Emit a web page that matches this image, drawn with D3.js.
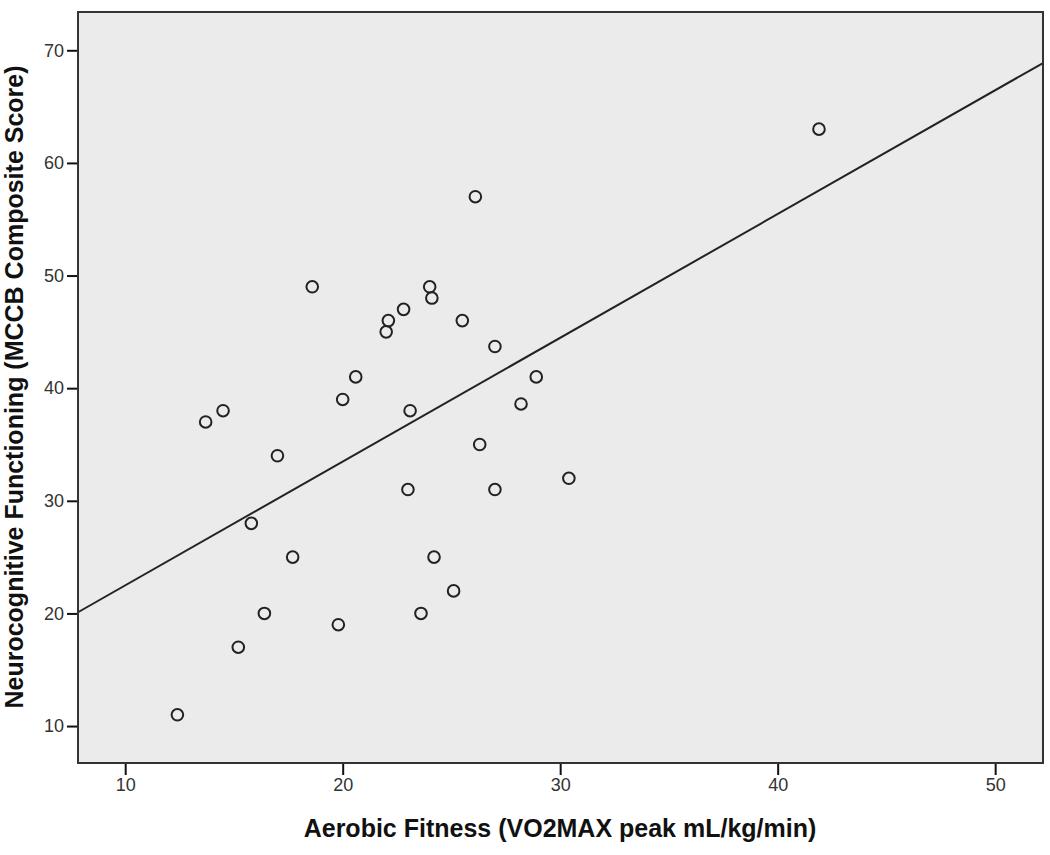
<!DOCTYPE html>
<html>
<head>
<meta charset="utf-8">
<script src="https://cdn.jsdelivr.net/npm/d3@7"></script>
<style>
  body { margin: 0; background: #fff; }
  svg { display: block; font-family: 'Liberation Sans', Arial, sans-serif; }
  .tick text { font-size: 18px; }
</style>
</head>
<body>
<div id="chart"></div>
<script>
  // Data
  const fitness = [
    12.4, 13.7, 14.5, 15.2, 15.8, 16.4, 17.0, 17.7, 18.6, 19.8, 20.0,
    20.6, 22.0, 22.1, 22.8, 23.0, 23.1, 23.6, 24.0, 24.1, 24.2, 25.1,
    25.5, 26.1, 26.3, 27.0, 27.0, 28.2, 28.9, 30.4, 41.9
  ];
  const mccb = [
    11, 37, 38, 17, 28, 20, 34, 25, 49, 19, 39,
    41, 45, 46, 47, 31, 38, 20, 49, 48, 25, 22,
    46, 57, 35, 43.7, 31, 38.6, 41, 32, 63
  ];
  // fit line (intercept, slope) as drawn in the figure
  const fitIntercept = 11.5;
  const fitSlope = 1.099;

  const xTicks = [10, 20, 30, 40, 50];
  const yTicks = [10, 20, 30, 40, 50, 60, 70];
  const xTitle = 'Aerobic Fitness (VO2MAX peak mL/kg/min)';
  const yTitle = 'Neurocognitive Functioning (MCCB Composite Score)';

  const WIDTH = 1050;
  const HEIGHT = 855;
  const margin = { top: 12, right: 7, bottom: 92, left: 78 };

  const svg = d3
    .select('#chart')
    .append('svg')
    .attr('width', WIDTH)
    .attr('height', HEIGHT);

  const x = d3
    .scaleLinear()
    .domain([7.83, 52.2])
    .range([margin.left, WIDTH - margin.right]);

  const y = d3
    .scaleLinear()
    .domain([6.72, 73.4])
    .range([HEIGHT - margin.bottom, margin.top]);

  // plot background
  svg
    .append('rect')
    .attr('x', margin.left)
    .attr('y', margin.top)
    .attr('width', WIDTH - margin.right - margin.left)
    .attr('height', HEIGHT - margin.bottom - margin.top)
    .attr('fill', '#ebebeb');

  // axes
  const xAxis = svg
    .append('g')
    .attr('transform', `translate(0,${HEIGHT - margin.bottom})`)
    .call(d3.axisBottom(x).tickValues(xTicks).tickSize(12).tickPadding(3));

  const yAxis = svg
    .append('g')
    .attr('transform', `translate(${margin.left},0)`)
    .call(d3.axisLeft(y).tickValues(yTicks).tickSize(11).tickPadding(3));

  [xAxis, yAxis].forEach((g) => {
    g.attr('font-size', 18).attr('font-family', null);
    g.select('.domain').remove();
    g.selectAll('.tick line').attr('stroke', '#111').attr('stroke-width', 2);
    g.selectAll('.tick text').attr('fill', '#333');
  });

  // fit line clipped to the plot frame
  svg
    .append('line')
    .attr('x1', x(x.domain()[0]))
    .attr('y1', y(fitIntercept + fitSlope * x.domain()[0]))
    .attr('x2', x(x.domain()[1]))
    .attr('y2', y(fitIntercept + fitSlope * x.domain()[1]))
    .attr('stroke', '#222')
    .attr('stroke-width', 2);

  // points
  svg
    .append('g')
    .selectAll('circle')
    .data(d3.zip(fitness, mccb))
    .join('circle')
    .attr('cx', (d) => x(d[0]))
    .attr('cy', (d) => y(d[1]))
    .attr('r', 5.8)
    .attr('fill', 'none')
    .attr('stroke', '#222')
    .attr('stroke-width', 2);

  // frame
  svg
    .append('rect')
    .attr('x', margin.left)
    .attr('y', margin.top)
    .attr('width', WIDTH - margin.right - margin.left)
    .attr('height', HEIGHT - margin.bottom - margin.top)
    .attr('fill', 'none')
    .attr('stroke', '#333')
    .attr('stroke-width', 2);

  // axis titles
  svg
    .append('text')
    .attr('x', 560)
    .attr('y', 837)
    .attr('text-anchor', 'middle')
    .attr('font-weight', 'bold')
    .attr('font-size', 25)
    .attr('fill', '#111')
    .text(xTitle);

  svg
    .append('text')
    .attr('transform', 'translate(23,387) rotate(-90)')
    .attr('text-anchor', 'middle')
    .attr('font-weight', 'bold')
    .attr('font-size', 25)
    .attr('fill', '#111')
    .text(yTitle);
</script>
</body>
</html>
